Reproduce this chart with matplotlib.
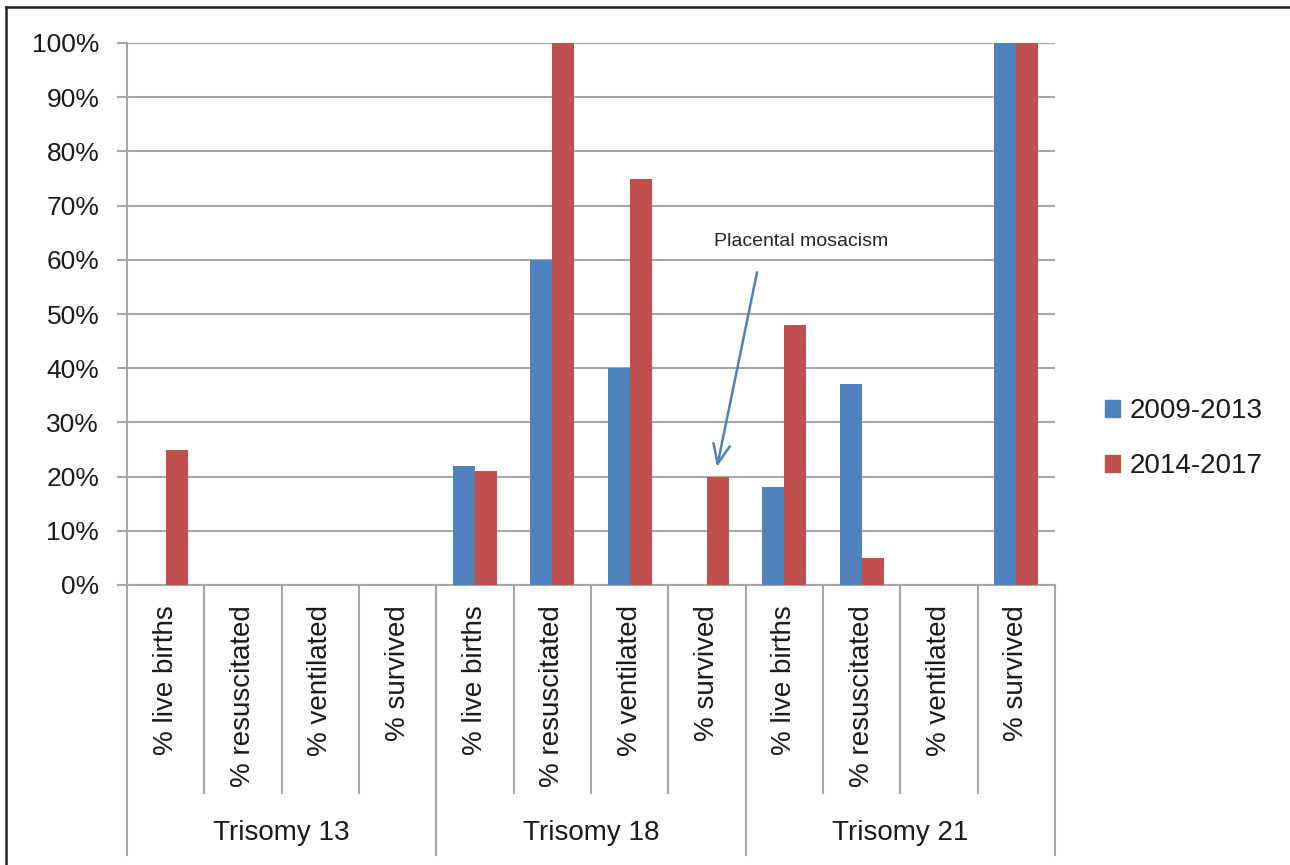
import matplotlib
matplotlib.use("Agg")
from matplotlib import pyplot as plt
from matplotlib.lines import Line2D
from matplotlib.patches import Patch
import numpy as np

plt.rcParams['font.family'] = ['Liberation Sans', 'DejaVu Sans']

groups = ["Trisomy 13", "Trisomy 18", "Trisomy 21"]
measures = ["% live births", "% resuscitated", "% ventilated", "% survived"]
series_names = ["2009-2013", "2014-2017"]
vals_0913 = [0, 0, 0, 0, 22, 60, 40, 0, 18, 37, 0, 100]
vals_1417 = [25, 0, 0, 0, 21, 100, 75, 20, 48, 5, 0, 100]

blue = "#4F81BD"
red = "#C0504D"
grid_c = "#A6A6A6"
txt_c = "#1a1a1a"

W, H = 1290, 865
fig = plt.figure(figsize=(W / 100, H / 100), dpi=100)
ax = fig.add_axes([127 / W, 1 - 585 / H, (1055 - 127) / W, (585 - 43) / H])

n = len(groups) * len(measures)
x = np.arange(n)
bw = 0.286
ax.bar(x - bw / 2, vals_0913, bw, color=blue, label=series_names[0], zorder=3)
ax.bar(x + bw / 2, vals_1417, bw, color=red, label=series_names[1], zorder=3)

ax.set_xlim(-0.5, n - 0.5)
ax.set_ylim(0, 100)
ax.set_yticks(np.arange(0, 101, 10))
ax.set_yticklabels([f"{v}%" for v in range(0, 101, 10)], fontsize=19, color=txt_c)
ax.tick_params(axis='y', length=7, width=1.5, color=grid_c, pad=13)
ax.set_xticks([])
ax.yaxis.grid(True, color=grid_c, linewidth=1.5, zorder=0)
for s in ["top", "right"]:
    ax.spines[s].set_visible(False)
ax.spines["left"].set_color(grid_c)
ax.spines["left"].set_linewidth(1.5)
ax.spines["bottom"].set_color(grid_c)
ax.spines["bottom"].set_linewidth(1.5)

# category axis below the plot
tr = ax.get_xaxis_transform()
ah = 585 - 43
for k in range(n + 1):
    major = k % len(measures) == 0
    y_end = -(855 - 585) / ah if major else -(793 - 585) / ah
    ax.add_line(Line2D([k - 0.5, k - 0.5], [0, y_end], transform=tr, color=grid_c,
                       linewidth=1.5, clip_on=False))
for i in range(n):
    ax.text(i, -20 / ah, measures[i % len(measures)], transform=tr, rotation=90,
            ha='center', va='top', fontsize=20, color=txt_c)
for g, name in enumerate(groups):
    c = g * len(measures) + (len(measures) - 1) / 2
    ax.text(c, -(833 - 585) / ah, name, transform=tr, ha='center', va='center',
            fontsize=20, color=txt_c)

# annotation
ax.annotate("", xy=(7.13, 21.8), xytext=(7.647, 57.7),
            arrowprops=dict(arrowstyle="->,head_length=1.4,head_width=0.6",
                            color=blue, linewidth=1.8, shrinkA=0, shrinkB=0), zorder=5)
ax.text(8.22, 63.3, "Placental mosacism", ha='center', va='center', fontsize=14,
        color="#262626", zorder=5)

handles = [Patch(color=blue), Patch(color=red)]
fig.legend(handles, series_names, loc='upper left', bbox_to_anchor=(1105 / W, 1 - 398 / H),
           frameon=False, fontsize=20, handlelength=0.55, handleheight=0.55,
           handletextpad=0.35, labelspacing=1.05, borderpad=0, borderaxespad=0,
           labelcolor=txt_c)

# outer border (top and left only)
fig.add_artist(Line2D([6 / W, 6 / W], [0, 1 - 7 / H], transform=fig.transFigure,
                      color="#222222", linewidth=1.8))
fig.add_artist(Line2D([6 / W, 1], [1 - 7 / H, 1 - 7 / H], transform=fig.transFigure,
                      color="#222222", linewidth=1.8))

fig.savefig("out.png", dpi=100, facecolor="white")
